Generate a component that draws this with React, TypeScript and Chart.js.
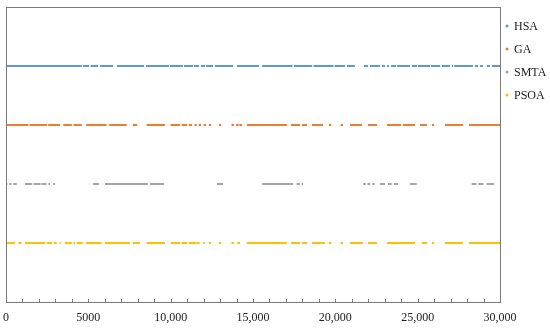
import React, { useEffect, useRef } from 'react';
import { Chart, registerables } from 'chart.js';

Chart.register(...registerables);

const seriesNames = ['HSA', 'GA', 'SMTA', 'PSOA'];
const seriesColors = ['#5B9BD5', '#ED7D31', '#A5A5A5', '#FFC000'];
const seriesLevels = [4, 3, 2, 1];

// [start, end] iteration ranges where each series has points
const hsaSegments: number[][] = [
  [0, 4600], [4660, 5040], [5140, 5590], [5710, 6500], [6740, 8380], [8500, 9900],
  [9960, 10750], [10810, 11360], [11420, 11720], [11840, 12090], [12150, 12570],
  [12690, 13790], [14030, 15360], [15550, 17400], [17480, 18600], [18680, 19900],
  [19960, 20590], [20710, 21190], [21740, 21980], [22100, 22710], [22830, 23020],
  [23140, 23260], [23380, 23680], [23740, 24530], [24650, 24960], [25020, 25750],
  [25810, 26360], [26480, 26960], [27080, 27150], [27210, 28360], [28480, 28660],
  [28790, 28970], [29210, 29390], [29510, 30000],
];
const gaSegments: number[][] = [
  [0, 1360], [1420, 2500], [2560, 3280], [3480, 4000], [4100, 4600], [4860, 6110],
  [6270, 7330], [7700, 7970], [8540, 9660], [10000, 10570], [10670, 11000],
  [11100, 11300], [11450, 11580], [11770, 11770], [12000, 12150], [12390, 12390],
  [13000, 13000], [13770, 13770], [14050, 14050], [14250, 14250], [14620, 17060],
  [17310, 17860], [17980, 18280], [18580, 19250], [19680, 19680], [20400, 20400],
  [20890, 21620], [21980, 22530], [23140, 24000], [24100, 24840], [25140, 25570],
  [25930, 25930], [26660, 27750], [28120, 30000],
];
const smtaSegments: number[][] = [
  [0, 80], [200, 340], [440, 650], [1150, 1600], [1680, 2100], [2150, 2470],
  [2570, 2670], [2860, 2980], [5280, 5650], [6010, 8620], [8740, 9600],
  [12810, 13180], [15550, 17430], [17650, 17850], [17950, 18040], [21700, 21850],
  [21950, 22110], [22310, 22310], [22710, 23020], [23200, 23420], [23560, 23810],
  [24530, 24940], [28280, 28580], [28680, 28990], [29190, 29640],
];
const psoaSegments: number[][] = [
  [0, 550], [750, 950], [1150, 2370], [2470, 2800], [2900, 3080], [3240, 3320],
  [3580, 4000], [4100, 4190], [4290, 4660], [4860, 5810], [6010, 7530], [7700, 8140],
  [8540, 9660], [10000, 10570], [10670, 11000], [11100, 11580], [11680, 11680],
  [11980, 12090], [12390, 12390], [13000, 13000], [13770, 13770], [14050, 14210],
  [14620, 17060], [17310, 17860], [17980, 18280], [18580, 19370], [19680, 19680],
  [20400, 20400], [20890, 21680], [21980, 22530], [23140, 24840], [25260, 25570],
  [25930, 25930], [26660, 27750], [28120, 30000],
];
const allSegments = [hsaSegments, gaSegments, smtaSegments, psoaSegments];

const xMin = 0;
const xMax = 30000;
const xMajorStep = 5000;
const xMinorStep = 1000;

const FONT = "'Liberation Serif', 'DejaVu Serif', serif";

function toPoints(segs: number[][], level: number) {
  const pts: { x: number; y: number | null; dot?: boolean }[] = [];
  segs.forEach(([a, b], i) => {
    if (i > 0) pts.push({ x: a, y: null });
    const dot = a === b;
    pts.push({ x: a, y: level, dot });
    pts.push({ x: b, y: level, dot });
  });
  return pts;
}

function formatTick(v: number) {
  if (v % xMajorStep !== 0) return '';
  if (v === 5000) return '5000';
  return v.toLocaleString('en-US');
}

const framePlugin = {
  id: 'frame',
  afterDatasetsDraw(chart: any) {
    const { ctx, chartArea, scales } = chart;
    const { left, right, top, bottom } = chartArea;
    const x = scales.x;
    ctx.save();
    ctx.lineWidth = 1;
    ctx.strokeStyle = '#7a7a7a';
    ctx.strokeRect(Math.round(left) + 0.5, Math.round(top) + 0.5, Math.round(right - left), Math.round(bottom - top));
    ctx.beginPath();
    x.ticks.forEach((t: any) => {
      const px = Math.round(x.getPixelForValue(t.value)) + 0.5;
      ctx.moveTo(px, Math.round(bottom) + 0.5);
      ctx.lineTo(px, Math.round(bottom) - 3);
    });
    ctx.stroke();
    ctx.restore();
  },
};

// Legend drawn beside the plot area, one entry per dataset
const legendPlugin = {
  id: 'sideLegend',
  afterDraw(chart: any) {
    const { ctx, chartArea } = chart;
    const x0 = chartArea.right + 7;
    const y0 = 26;
    const step = 23;
    ctx.save();
    ctx.font = `12px ${FONT}`;
    ctx.textBaseline = 'middle';
    ctx.textAlign = 'left';
    chart.data.datasets.forEach((ds: any, i: number) => {
      const y = y0 + i * step;
      ctx.fillStyle = ds.borderColor;
      ctx.beginPath();
      ctx.arc(x0, y, 1.5, 0, Math.PI * 2);
      ctx.fill();
      ctx.fillStyle = '#222';
      ctx.fillText(ds.label, x0 + 7, y + 0.5);
    });
    ctx.restore();
  },
};

export default function App() {
  const ref = useRef<HTMLCanvasElement | null>(null);
  useEffect(() => {
    if (!ref.current) return;
    const chart = new Chart(ref.current, {
      type: 'scatter',
      data: {
        datasets: seriesNames.map((name, i) => ({
          label: name,
          data: toPoints(allSegments[i], seriesLevels[i]),
          showLine: true,
          spanGaps: false,
          borderColor: seriesColors[i],
          backgroundColor: seriesColors[i],
          borderWidth: 2,
          borderCapStyle: 'butt',
          pointStyle: 'rect',
          pointRadius: (c: any) => (c.raw && c.raw.dot ? 1.5 : 0),
          pointBorderWidth: 0,
          pointHoverRadius: 0,
        })),
      },
      options: {
        animation: false,
        responsive: false,
        events: [],
        layout: { padding: { left: 6, top: 7, right: 50, bottom: 2 } },
        plugins: {
          tooltip: { enabled: false },
          legend: { display: false },
        },
        scales: {
          x: {
            type: 'linear',
            min: xMin,
            max: xMax,
            grid: { display: false, drawTicks: false },
            border: { display: false },
            ticks: {
              stepSize: xMinorStep,
              autoSkip: false,
              maxRotation: 0,
              padding: 9,
              color: '#222',
              font: { family: FONT, size: 12 },
              callback: (v: any) => formatTick(Number(v)),
            },
            afterFit: (scale: any) => {
              scale.paddingLeft = 0;
              scale.paddingRight = 0;
              scale.height = 24;
            },
          },
          y: {
            min: 0,
            max: 5,
            display: false,
          },
        },
      },
      plugins: [framePlugin, legendPlugin],
    });
    return () => chart.destroy();
  }, []);
  return (
    <div style={{ position: 'fixed', left: 0, top: 0, width: 550, height: 328, background: '#fff' }}>
      <canvas ref={ref} width={550} height={328} style={{ display: 'block' }} />
    </div>
  );
}
